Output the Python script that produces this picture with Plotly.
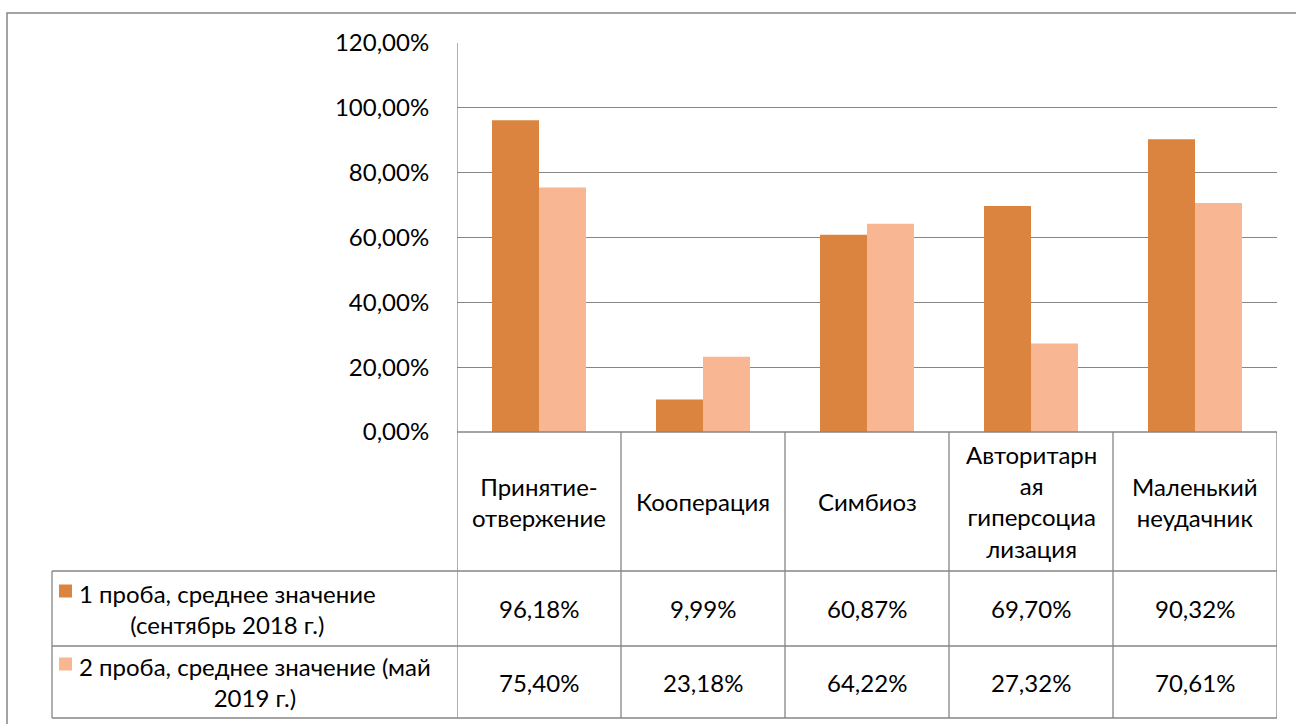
import plotly.graph_objects as go

categories = ["Принятие-<br>отвержение", "Кооперация", "Симбиоз",
              "Авторитарн<br>ая<br>гиперсоциа<br>лизация", "Маленький<br>неудачник"]
series1_name = "1 проба, среднее значение<br>(сентябрь 2018 г.)"
series2_name = "2 проба, среднее значение (май<br>2019 г.)"
series1 = [96.18, 9.99, 60.87, 69.70, 90.32]
series2 = [75.40, 23.18, 64.22, 27.32, 70.61]
ytick_vals = [0, 20, 40, 60, 80, 100, 120]


def pct(v):
    return f"{v:.2f}%".replace(".", ",")


W, H = 1296, 724
C1, C2 = "#DA843F", "#F9B692"
GRID = "#868686"
FONT = "Lato, 'Open Sans', sans-serif"
FS = 24


def px_x(p):
    return p / W


def px_y(p):
    return 1 - p / H


# layout geometry (pixels)
PL, PR, PT, PB = 457, 1277, 43, 432
ROW1, ROW2, TB = 571, 646, 718
TL = 52

xs = list(range(len(categories)))

fig = go.Figure()
fig.add_trace(go.Bar(x=xs, y=series1, marker_color=C1, marker_line_width=0, name="s1"))
fig.add_trace(go.Bar(x=xs, y=series2, marker_color=C2, marker_line_width=0, name="s2"))

fig.update_layout(
    width=W, height=H, margin=dict(l=0, r=0, t=0, b=0, pad=0, autoexpand=False),
    paper_bgcolor="white", plot_bgcolor="white",
    barmode="group", bargap=1 - 94 / 164, bargroupgap=0,
    showlegend=False,
    font=dict(family=FONT, size=FS, color="#000000"),
    xaxis=dict(domain=[px_x(PL), px_x(PR)], range=[-0.5, len(categories) - 0.5],
               showticklabels=False, showgrid=False, zeroline=False, showline=False,
               automargin=False, fixedrange=True),
    yaxis=dict(domain=[px_y(PB), px_y(PT)], range=[0, 120], tickvals=ytick_vals,
               ticktext=[pct(v) for v in ytick_vals],
               showgrid=True, gridcolor=GRID, gridwidth=1, zeroline=False, showline=False,
               ticks="outside", ticklen=22, tickcolor="rgba(0,0,0,0)", automargin=False,
               tickfont=dict(family=FONT, size=FS, color="#000000"), fixedrange=True),
)

shapes = []
line = dict(color=GRID, width=1.3)
# outer chart border
shapes.append(dict(type="rect", xref="paper", yref="paper", x0=px_x(7), x1=px_x(W + 5),
                   y0=px_y(H + 5), y1=px_y(13), line=dict(color=GRID, width=1.5)))
# axis/table vertical lines at category boundaries
for i in range(len(categories) + 1):
    top = PT if i == 0 else PB
    shapes.append(dict(type="line", xref="x", yref="paper", x0=i - 0.5, x1=i - 0.5,
                       y0=px_y(top), y1=px_y(TB), line=line))
# table horizontal lines
shapes.append(dict(type="line", xref="paper", yref="paper", x0=px_x(PL), x1=px_x(PR),
                   y0=px_y(PB), y1=px_y(PB), line=line))
for yy in (ROW1, ROW2, TB):
    shapes.append(dict(type="line", xref="paper", yref="paper", x0=px_x(TL), x1=px_x(PR),
                       y0=px_y(yy), y1=px_y(yy), line=line))
shapes.append(dict(type="line", xref="paper", yref="paper", x0=px_x(TL), x1=px_x(TL),
                   y0=px_y(ROW1), y1=px_y(TB), line=line))
# legend keys
for (cy, col) in ((591, C1), (664, C2)):
    shapes.append(dict(type="rect", xref="paper", yref="paper", x0=px_x(59), x1=px_x(72),
                       y0=px_y(cy + 6.5), y1=px_y(cy - 6.5), fillcolor=col, line=dict(width=0)))
fig.update_layout(shapes=shapes)

ann = []
for i, c in enumerate(categories):
    ann.append(dict(x=i, y=px_y((PB + ROW1) / 2), xref="x", yref="paper", text=c,
                    showarrow=False, align="center", xanchor="center", yanchor="middle",
                    font=dict(family=FONT, size=FS, color="#000000")))
    for vals, (y0, y1) in ((series1, (ROW1, ROW2)), (series2, (ROW2, TB))):
        ann.append(dict(x=i, y=px_y((y0 + y1) / 2), xref="x", yref="paper", text=pct(vals[i]),
                        showarrow=False, xanchor="center", yanchor="middle",
                        font=dict(family=FONT, size=FS, color="#000000")))
for name, (y0, y1) in ((series1_name, (ROW1, ROW2)), (series2_name, (ROW2, TB))):
    ann.append(dict(x=px_x(77), y=px_y((y0 + y1) / 2), xref="paper", yref="paper",
                    text=name, showarrow=False, align="center", xanchor="left",
                    yanchor="middle", font=dict(family=FONT, size=FS, color="#000000")))
fig.update_layout(annotations=ann)

fig.write_html("out.html", config={"displayModeBar": False},
               post_script="document.body.style.margin='0';")
